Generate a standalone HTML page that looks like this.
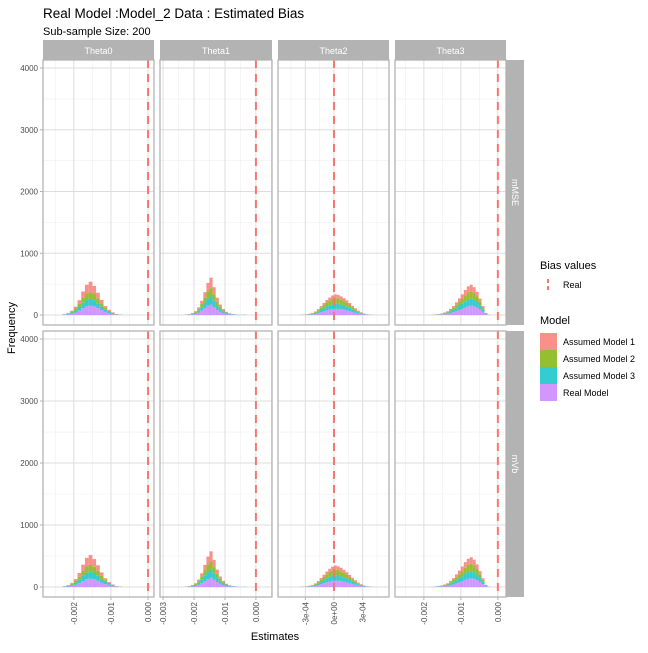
<!DOCTYPE html>
<html><head><meta charset="utf-8"><style>
body{margin:0;background:#fff}
svg text{font-family:"Liberation Sans",Arial,sans-serif}
</style></head><body>
<svg id="chart" width="648" height="648" xmlns="http://www.w3.org/2000/svg">
<rect width="648" height="648" fill="#fff"/>
<text x="43" y="18" font-size="13.5" fill="#000">Real Model :Model_2 Data : Estimated Bias</text>
<text x="43" y="35" font-size="11" fill="#000">Sub-sample Size: 200</text>
<text x="275" y="640" font-size="11" text-anchor="middle">Estimates</text>
<text x="0" y="0" font-size="11" text-anchor="middle" transform="translate(15,328) rotate(-90)">Frequency</text>
<g id="panels"></g>
<g>
<text x="540" y="269" font-size="11">Bias values</text>
<line x1="548" y1="279" x2="548" y2="291" stroke="#F8766D" stroke-width="2" stroke-dasharray="4,3"/>
<text x="563" y="288" font-size="9">Real</text>
<text x="540" y="324" font-size="11">Model</text>
<rect x="540" y="333" width="17" height="17" fill="#F8766D" fill-opacity="0.8"/>
<text x="563" y="345" font-size="9">Assumed Model 1</text>
<rect x="540" y="350" width="17" height="17" fill="#7CAE00" fill-opacity="0.8"/>
<text x="563" y="362" font-size="9">Assumed Model 2</text>
<rect x="540" y="367" width="17" height="17" fill="#00BFC4" fill-opacity="0.8"/>
<text x="563" y="379" font-size="9">Assumed Model 3</text>
<rect x="540" y="384" width="17" height="17" fill="#C77CFF" fill-opacity="0.8"/>
<text x="563" y="396" font-size="9">Real Model</text>
</g>
</svg>
<script>
const colNames=["Theta0","Theta1","Theta2","Theta3"];
const rowNames=["mMSE","mVb"];
const colDomains=[[-0.00283,0.00016],[-0.00310,0.00052],[-0.000586,0.000576],[-0.00278,0.00022]];
const colTicks=[[-0.002,-0.001,0],[-0.003,-0.002,-0.001,0],[-0.0003,0,0.0003],[-0.002,-0.001,0]];
const colTickLabels=[["-0.002","-0.001","0.000"],["-0.003","-0.002","-0.001","0.000"],["-3e-04","0e+00","3e-04"],["-0.002","-0.001","0.000"]];
const yTicks=[0,1000,2000,3000,4000];
const yDomain=[-162,4130];
const biasReal=[0,0,0,0];
const binStart=[[-0.0023,-0.0023,-0.00042,-0.0018],[-0.0023,-0.0023,-0.00042,-0.0018]];
const binWidth=[[0.0001,0.0001,0.00003,0.00008],[0.0001,0.0001,0.00003,0.00008]];
// order: Real Model, Assumed 3, Assumed 2, Assumed 1 (bottom to top)
const realR1=[[5,10,20,40,70,110,140,150,140,110,80,50,30,15,5,2],[3,5,10,20,40,70,110,150,170,130,80,50,30,15,8,4,2,1,0,0],[0,0,1,2,3,6,10,18,30,45,60,75,85,95,100,98,92,85,75,62,48,35,24,15,8,4,2,1,0,0],[2,3,5,8,12,20,30,45,60,80,100,120,140,150,140,120,90,50,10,2]];
const cyanR1=[[5,10,20,35,60,90,110,110,100,80,55,35,20,10,5,2],[2,4,8,15,30,55,85,115,130,100,65,40,25,15,10,8,5,3,2,5],[0,0,1,2,3,5,8,14,24,36,50,62,72,80,85,82,76,68,60,50,38,28,18,11,6,3,2,1,0,0],[1,2,4,6,10,15,25,35,50,65,80,95,110,115,105,90,65,40,15,3]];
const greenR1=[[3,8,15,30,50,80,100,110,100,80,55,30,20,10,3,2],[2,4,8,15,30,55,85,115,135,100,65,40,22,12,5,2,1,0,0,0],[0,0,1,2,3,6,9,15,25,38,52,65,76,84,90,86,80,72,62,50,38,28,18,11,6,3,2,1,0,0],[1,2,4,6,10,15,25,35,50,65,80,100,115,120,110,90,60,30,5,1]];
const redR1=[[2,5,15,30,60,100,140,170,130,90,55,30,15,8,3,2],[1,3,6,12,25,50,90,140,170,120,70,40,20,10,5,2,1,0,0,0],[0,0,1,1,2,4,6,10,16,24,33,42,50,56,60,58,54,48,40,32,24,17,11,7,4,2,1,0,0,0],[1,2,3,5,8,12,20,30,45,60,75,90,100,105,95,75,50,25,5,1]];
const realR2=[[4,8,18,35,60,95,125,135,125,100,70,45,25,12,5,2],[2,4,8,18,35,60,95,125,150,120,80,50,30,15,8,4,2,1,0,0],[0,0,1,2,3,6,10,18,30,45,60,75,88,98,104,100,94,86,76,62,48,35,24,15,8,4,2,1,0,0],[2,3,5,8,12,18,28,42,58,75,95,115,130,140,130,110,80,45,10,2]];
const cyanR2=[[4,9,18,32,55,85,105,110,100,80,55,35,20,10,5,2],[2,4,8,15,30,55,85,115,130,100,65,40,25,15,10,8,5,3,2,3],[0,0,1,2,3,5,8,14,24,36,50,64,76,84,88,85,78,70,60,50,38,28,18,11,6,3,2,1,0,0],[1,2,4,6,10,15,25,35,50,65,80,95,110,115,105,90,65,40,15,3]];
const greenR2=[[3,8,15,30,50,80,100,110,100,80,55,30,20,10,3,2],[2,4,8,15,30,55,85,115,135,100,65,40,22,12,5,2,1,0,0,0],[0,0,1,2,3,6,9,15,25,38,52,66,78,88,92,88,82,72,62,50,38,28,18,11,6,3,2,1,0,0],[1,2,4,6,10,15,25,35,50,65,80,100,115,120,110,90,60,30,5,1]];
const redR2=[[2,5,15,30,60,100,140,160,125,90,55,30,15,8,3,2],[1,3,6,12,25,50,90,135,160,115,70,40,20,10,5,2,1,0,0,0],[0,0,1,1,2,4,6,10,16,24,34,44,52,58,62,60,55,48,40,32,24,17,11,7,4,2,1,0,0,0],[1,2,3,5,8,12,20,30,45,60,75,90,100,105,95,75,50,25,5,1]];
const seriesByRow=[[realR1,cyanR1,greenR1,redR1],[realR2,cyanR2,greenR2,redR2]];
const seriesColors=["#C77CFF","#00BFC4","#7CAE00","#F8766D"];
const seriesKeys=["real-model","assumed-model-3","assumed-model-2","assumed-model-1"];

const NS="http://www.w3.org/2000/svg";
const panelX=[[43,154],[160,272],[278,389],[395,506]];
const panelY=[[60,325],[331,597]];
const root=document.getElementById("panels");
function mk(tag,attrs,parent){const e=document.createElementNS(NS,tag);for(const k in attrs)e.setAttribute(k,attrs[k]);(parent||root).appendChild(e);return e;}
function xScale(c,v){const d=colDomains[c],p=panelX[c];return p[0]+(v-d[0])/(d[1]-d[0])*(p[1]-p[0]);}
function yScale(r,v){const p=panelY[r];return p[1]-(v-yDomain[0])/(yDomain[1]-yDomain[0])*(p[1]-p[0]);}

for(let c=0;c<4;c++){
  const s=mk("rect",{x:panelX[c][0],y:40,width:panelX[c][1]-panelX[c][0],height:20,fill:"#B3B3B3"});
  
  
  const t=mk("text",{x:(panelX[c][0]+panelX[c][1])/2,y:54,"font-size":"9","text-anchor":"middle",fill:"#fff"});
  t.textContent=colNames[c];
  
  
}
for(let r=0;r<2;r++){
  const s=mk("rect",{x:506,y:panelY[r][0],width:18,height:panelY[r][1]-panelY[r][0],fill:"#B3B3B3"});
  
  
  const cy=(panelY[r][0]+panelY[r][1])/2;
  const t=mk("text",{x:0,y:0,"font-size":"9","text-anchor":"middle",fill:"#fff",transform:`translate(512,${cy}) rotate(90)`});
  t.textContent=rowNames[r];
  
  
}

for(let r=0;r<2;r++){
  yTicks.forEach(v=>{
    const y=yScale(r,v);
    const t=mk("text",{x:38,y:y+3,"font-size":"8","text-anchor":"end",fill:"#4d4d4d"});
    t.textContent=v;
    
    
    const tk=mk("line",{x1:40,x2:43,y1:y,y2:y,stroke:"#b3b3b3","stroke-width":"1"});
    
    
  });
  for(let c=0;c<4;c++){
    const g=mk("g",{});
    
    
    const x0=panelX[c][0],x1=panelX[c][1],y0=panelY[r][0],y1=panelY[r][1];
    for(let v=500;v<4130;v+=1000){const y=yScale(r,v);mk("line",{x1:x0,x2:x1,y1:y,y2:y,stroke:"#efefef","stroke-width":"0.6"},g);}
    const tk=colTicks[c],step=tk[1]-tk[0];
    for(let i=-1;i<tk.length;i++){const v=tk[0]+step*(i+0.5);const x=xScale(c,v);if(x>x0&&x<x1)mk("line",{x1:x,x2:x,y1:y0,y2:y1,stroke:"#efefef","stroke-width":"0.6"},g);}
    yTicks.forEach(v=>{const y=yScale(r,v);mk("line",{x1:x0,x2:x1,y1:y,y2:y,stroke:"#dedede","stroke-width":"1"},g);});
    tk.forEach(v=>{const x=xScale(c,v);mk("line",{x1:x,x2:x,y1:y0,y2:y1,stroke:"#dedede","stroke-width":"1"},g);});
    const sers=seriesByRow[r];
    const n=sers[0][c].length;
    const bs=binStart[r][c],bw=binWidth[r][c];
    for(let b=0;b<n;b++){
      let acc=0;
      for(let s=0;s<4;s++){
        const v=sers[s][c][b];
        if(v<=0){continue;}
        const xa=xScale(c,bs+b*bw),xb=xScale(c,bs+(b+1)*bw);
        const ya=yScale(r,acc+v),yb=yScale(r,acc);
        const rc=mk("rect",{x:xa,y:ya,width:xb-xa,height:yb-ya,fill:seriesColors[s],"fill-opacity":"0.8"},g);
        
        
        acc+=v;
      }
    }
    const bx=xScale(c,biasReal[c]);
    const bl=mk("line",{x1:bx,x2:bx,y1:y0,y2:y1,stroke:"#F8766D","stroke-width":"2","stroke-dasharray":"8,6"},g);
    
    
    const br=mk("rect",{x:x0,y:y0,width:x1-x0,height:y1-y0,fill:"none",stroke:"#b3b3b3","stroke-width":"1.3"},g);
    
    
    if(r===1){
      tk.forEach((v,i)=>{
        const x=xScale(c,v);
        const l=mk("line",{x1:x,x2:x,y1:y1,y2:y1+3,stroke:"#b3b3b3"});
        
        
        const t=mk("text",{x:0,y:0,"font-size":"8","text-anchor":"end",fill:"#4d4d4d",transform:`translate(${x+3},${y1+5}) rotate(-90)`});
        t.textContent=colTickLabels[c][i];
        
        
      });
    }
  }
}
</script>
</body></html>
